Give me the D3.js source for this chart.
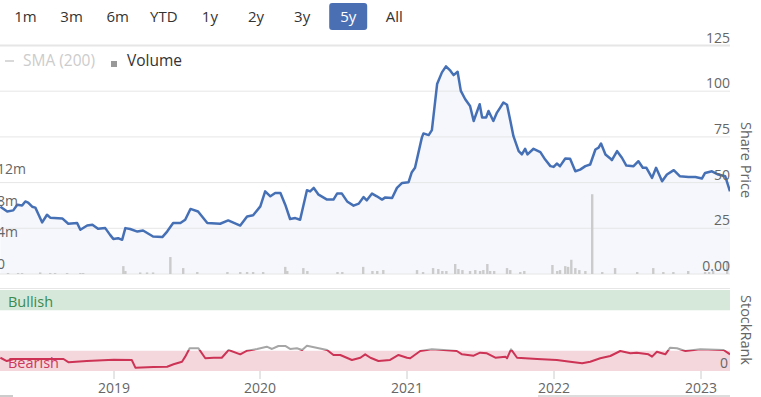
<!DOCTYPE html>
<meta charset="utf-8">
<script src="https://d3js.org/d3.v7.min.js"></script>
<style>
  body { margin: 0; background: #fff; }
  text { font-family: "Open Sans", sans-serif; }
</style>
<div id="chart"></div>
<script>

// range selector
var ranges = ["1m", "3m", "6m", "YTD", "1y", "2y", "3y", "5y", "All"];
var selectedRange = "5y";

// share price
var priceDates = ["2018-03-25","2018-04-11","2018-04-26","2018-05-06","2018-05-18","2018-05-26","2018-06-02","2018-06-12","2018-06-20","2018-06-27",
  "2018-07-07","2018-07-19","2018-07-27","2018-08-26","2018-09-10","2018-10-02","2018-10-10","2018-10-27","2018-11-09","2018-11-23",
  "2018-12-11","2018-12-23","2018-12-31","2019-01-12","2019-01-22","2019-01-30","2019-02-11","2019-03-01","2019-03-15","2019-04-09",
  "2019-05-02","2019-05-14","2019-05-29","2019-06-16","2019-06-28","2019-07-11","2019-07-30","2019-08-22","2019-09-23","2019-10-13",
  "2019-11-12","2019-11-29","2019-12-14","2020-01-01","2020-01-13","2020-01-26","2020-02-07","2020-02-20","2020-03-03","2020-03-15",
  "2020-03-28","2020-04-09","2020-04-26","2020-05-04","2020-05-13","2020-05-25","2020-06-15","2020-07-01","2020-07-10","2020-07-22",
  "2020-08-04","2020-08-20","2020-09-02","2020-09-14","2020-09-22","2020-10-05","2020-10-17","2020-10-30","2020-11-07","2020-11-24",
  "2020-12-06","2020-12-19","2021-01-04","2021-01-12","2021-01-20","2021-02-06","2021-02-10","2021-02-23","2021-03-03","2021-03-16",
  "2021-03-28","2021-04-07","2021-04-18","2021-04-26","2021-05-06","2021-05-14","2021-05-25","2021-06-06","2021-06-15","2021-06-30",
  "2021-07-06","2021-07-16","2021-07-22","2021-08-03","2021-08-12","2021-08-20","2021-08-28","2021-09-06","2021-09-14","2021-09-22",
  "2021-10-05","2021-10-13","2021-10-21","2021-10-27","2021-11-11","2021-11-28","2021-12-10","2021-12-23","2021-12-31","2022-01-08",
  "2022-01-16","2022-01-29","2022-02-10","2022-02-23","2022-03-07","2022-03-20","2022-04-01","2022-04-14","2022-04-22","2022-04-28",
  "2022-05-09","2022-05-21","2022-05-25","2022-06-07","2022-06-19","2022-06-30","2022-07-18","2022-07-30","2022-08-10","2022-08-19",
  "2022-09-02","2022-09-12","2022-09-27","2022-10-09","2022-10-26","2022-11-10","2022-12-02","2022-12-19","2023-01-04","2023-01-12",
  "2023-01-29","2023-02-14","2023-03-03","2023-03-15"];
var priceValues = [36.8,34.2,34.8,37.9,37.5,39.7,39.0,36.8,36.3,33.0,
  28.2,32.4,30.8,30.4,27.5,27.9,24.2,26.5,26.9,24.7,
  25.1,21.4,19.2,19.6,18.7,25.1,24.6,23.2,23.8,20.5,
  20.2,23.2,27.9,27.9,29.7,35.6,34.2,27.9,27.5,29.3,
  26.5,31.5,32.1,37.0,45.2,42.5,44.3,44.3,37.9,30.1,
  30.6,29.7,45.8,45.2,47.1,43.4,40.7,40.7,44.0,44.0,
  39.7,37.4,38.5,42.1,40.3,44.0,42.5,40.7,41.9,41.6,
  47.1,49.8,50.2,55.7,58.1,74.6,76.9,76.0,78.7,103.9,
  110.3,113.6,111.2,108.8,110.6,100.2,95.6,91.9,83.7,92.9,
  85.6,85.6,89.2,83.7,88.3,91.0,93.8,92.6,84.1,75.4,
  67.2,65.4,68.5,65.4,68.5,66.7,62.6,59.0,58.6,60.4,
  59.0,63.2,63.0,56.2,57.1,59.0,59.9,68.1,69.1,71.4,
  65.4,63.2,62.3,67.2,63.6,59.3,59.0,61.7,58.1,58.1,
  52.6,58.1,50.7,54.4,56.8,53.5,53.1,53.1,52.2,55.3,
  56.2,54.4,53.5,45.2];

// volume (millions)
var volumeDates = ["2018-04-13","2018-05-08","2018-05-18","2018-07-02","2018-07-27","2018-08-08","2018-09-07","2018-10-10","2018-10-17",
  "2019-01-25","2019-01-30","2019-03-08","2019-03-25","2019-04-09","2019-05-22","2019-06-23","2019-07-28","2019-10-11","2019-11-12",
  "2019-11-29","2019-12-14","2020-01-08","2020-03-03","2020-03-08","2020-04-17","2020-04-27","2020-07-11","2020-07-23","2020-09-13",
  "2020-10-06","2020-10-18","2020-11-02","2021-01-25","2021-02-09","2021-03-06","2021-03-19","2021-03-29","2021-04-08","2021-04-30",
  "2021-05-08","2021-05-18","2021-06-06","2021-06-19","2021-07-01","2021-07-09","2021-07-19","2021-07-26","2021-08-05","2021-09-06",
  "2021-09-14","2021-10-09","2021-10-19","2021-12-28","2022-01-09","2022-01-16","2022-01-29","2022-02-05","2022-02-13","2022-02-23",
  "2022-03-05","2022-03-20","2022-04-06","2022-05-01","2022-06-02","2022-07-27","2022-09-05","2022-09-30","2022-10-25","2022-12-01",
  "2023-01-12","2023-01-22","2023-02-01","2023-03-08"];
var volumeValues = [0.13,0.13,0.13,0.2,0.13,0.13,0.13,0.13,0.13,
  1.0,0.38,0.2,0.2,0.2,2.15,0.75,0.25,0.25,0.25,
  0.25,0.25,0.25,0.9,0.38,0.75,0.38,0.25,0.25,0.9,
  0.38,0.38,0.5,0.5,0.25,0.75,0.63,0.38,0.38,1.27,
  0.63,0.5,0.38,0.5,0.38,0.5,1.27,0.38,0.38,0.75,
  0.5,0.25,0.38,1.14,0.38,0.5,1.0,0.9,1.8,0.75,
  0.5,0.38,10.1,0.25,0.75,0.25,0.75,0.25,0.25,0.38,
  0.25,0.25,0.38,1.6];

// StockRank
var rankDates = ["2018-03-25","2018-04-10","2018-04-27","2018-08-29","2018-09-11","2018-10-26","2019-01-01","2019-02-15","2019-02-24","2019-04-10",
  "2019-05-14","2019-05-30","2019-06-20","2019-06-28","2019-07-09","2019-07-31","2019-08-17","2019-09-07","2019-09-27","2019-10-14",
  "2019-11-12","2019-11-29","2019-12-24","2020-01-17","2020-01-30","2020-02-15","2020-03-03","2020-03-15","2020-04-01","2020-04-14",
  "2020-04-26","2020-06-15","2020-07-01","2020-07-18","2020-08-16","2020-09-06","2020-09-18","2020-10-01","2020-10-21","2020-11-19",
  "2020-12-10","2020-12-31","2021-01-08","2021-02-02","2021-03-03","2021-04-01","2021-05-04","2021-05-17","2021-06-15","2021-07-01",
  "2021-07-18","2021-08-08","2021-09-02","2021-09-06","2021-09-16","2021-10-01","2021-11-20","2022-01-08","2022-02-10","2022-03-12",
  "2022-04-01","2022-04-26","2022-05-21","2022-06-15","2022-07-10","2022-07-26","2022-08-24","2022-09-02","2022-09-14","2022-10-05",
  "2022-10-17","2022-11-03","2022-11-24","2022-12-31","2023-02-27","2023-03-15"];
var rankValues = [16.4,12.3,14.8,14.8,10.7,12.3,14.0,13.6,4.1,4.9,
  5.3,8.3,11.5,17.7,28.0,28.0,15.7,16.4,16.4,25.9,
  20.6,25.1,27.2,30.0,27.2,30.9,30.9,27.2,28.0,25.9,
  31.2,25.9,19.8,19.8,13.6,16.4,20.6,16.4,12.3,13.6,
  19.8,16.4,15.7,24.7,26.8,25.9,24.7,20.6,18.9,22.6,
  21.9,16.4,17.7,15.7,26.8,16.4,14.8,13.6,11.5,9.5,
  11.5,15.7,18.5,24.7,21.9,22.6,20.6,17.7,23.8,20.6,
  28.8,28.0,24.7,26.8,25.9,20.6];

var priceTicks = [0, 25, 50, 75, 100, 125];
var volumeTicks = [0, 4, 8, 12];
var yearTicks = ["2019-01-01", "2020-01-01", "2021-01-01", "2022-01-01", "2023-01-01"];
var bands = [{name: "Bullish", from: 75, to: 100}, {name: "Bearish", from: 0, to: 25}];

var W = 761, H = 397, plotRight = 730;
var parse = d3.timeParse("%Y-%m-%d");

var svg = d3.select("#chart").append("svg")
  .attr("width", W)
  .attr("height", H);

var x = d3.scaleTime()
  .domain([parse("2018-03-24"), parse("2023-03-15")])
  .range([0, plotRight]);
var yPrice = d3.scaleLinear().domain([0, 125]).range([274, 45.5]);
var yVol = d3.scaleLinear().domain([0, 16]).range([274, 147.6]);
var yRank = d3.scaleLinear().domain([0, 100]).range([371, 290]);

var price = priceDates.map(function(d, i) { return {date: parse(d), value: priceValues[i]}; });
var volume = volumeDates.map(function(d, i) { return {date: parse(d), value: volumeValues[i]}; });
var rank = rankDates.map(function(d, i) { return {date: parse(d), value: rankValues[i]}; });

// range selector buttons
var btn = svg.append("g").selectAll("g")
  .data(ranges)
  .enter().append("g")
  .attr("transform", function(d, i) { return "translate(" + (25.5 + i * 46.1) + ",0)"; });
btn.filter(function(d) { return d === selectedRange; })
  .append("rect")
  .attr("x", -19).attr("y", 3).attr("width", 38).attr("height", 27).attr("rx", 3)
  .attr("fill", "#4a6fb3");
btn.append("text")
  .attr("y", 22)
  .attr("text-anchor", "middle")
  .style("font-size", "15px")
  .attr("fill", function(d) { return d === selectedRange ? "#fff" : "#333"; })
  .text(function(d) { return d; });

// legend
var legend = svg.append("g");
legend.append("line")
  .attr("x1", 5).attr("x2", 14).attr("y1", 61).attr("y2", 61)
  .attr("stroke", "#ccc").attr("stroke-width", 1.5);
legend.append("text").attr("x", 23).attr("y", 66)
  .style("font-size", "15.5px").attr("fill", "#ccc").text("SMA (200)");
legend.append("rect").attr("x", 111).attr("y", 61).attr("width", 6).attr("height", 6)
  .attr("fill", "#999");
legend.append("text").attr("x", 127).attr("y", 66)
  .style("font-size", "15.5px").attr("fill", "#333").text("Volume");

// clip
svg.append("clipPath").attr("id", "plotClip")
  .append("rect").attr("x", 0).attr("y", 0).attr("width", plotRight).attr("height", H);

// area under the price line
svg.append("path")
  .datum(price)
  .attr("clip-path", "url(#plotClip)")
  .attr("fill", "#f5f7fc")
  .attr("d", d3.area()
    .x(function(d) { return x(d.date); })
    .y0(yPrice(0))
    .y1(function(d) { return yPrice(d.value); }));

// gridlines
svg.append("g").selectAll("line")
  .data(priceTicks)
  .enter().append("line")
  .attr("x1", 0).attr("x2", plotRight)
  .attr("y1", function(d) { return yPrice(d); })
  .attr("y2", function(d) { return yPrice(d); })
  .attr("stroke", "#e6e6e6")
  .attr("stroke-width", function(d) { return d === 125 ? 2 : 1; });

var upper = svg.append("g").attr("clip-path", "url(#plotClip)");

// volume bars
upper.append("g").selectAll("rect")
  .data(volume)
  .enter().append("rect")
  .attr("x", function(d) { return x(d.date) - 1.2; })
  .attr("width", 2.4)
  .attr("y", function(d) { return yVol(d.value); })
  .attr("height", function(d) { return yVol(0) - yVol(d.value); })
  .attr("fill", "#cbcbcb");

// price line
upper.append("path")
  .datum(price)
  .attr("fill", "none")
  .attr("stroke", "#4670b5")
  .attr("stroke-width", 2.5)
  .attr("stroke-linejoin", "round")
  .attr("d", d3.line()
    .x(function(d) { return x(d.date); })
    .y(function(d) { return yPrice(d.value); }));

// price axis labels
svg.append("g").selectAll("text")
  .data(priceTicks)
  .enter().append("text")
  .attr("x", plotRight)
  .attr("y", function(d) { return yPrice(d) - 3; })
  .attr("text-anchor", "end")
  .style("font-size", "14px")
  .attr("fill", "#666")
  .text(function(d) { return d === 0 ? "0.00" : d; });

// volume axis labels (cut at the left edge, as in the source)
svg.append("g").selectAll("text")
  .data(volumeTicks)
  .enter().append("text")
  .attr("x", -3)
  .attr("y", function(d) { return yVol(d) - 5; })
  .style("font-size", "14px")
  .attr("fill", "#666")
  .text(function(d) { return d === 0 ? "0" : d + "m"; });

svg.append("text")
  .attr("transform", "translate(741,160) rotate(90)")
  .attr("text-anchor", "middle")
  .style("font-size", "14.5px")
  .attr("fill", "#666")
  .text("Share Price");

// StockRank panel
svg.append("line")
  .attr("x1", 0).attr("x2", plotRight).attr("y1", 288.5).attr("y2", 288.5)
  .attr("stroke", "#e6e6e6");

svg.append("g").selectAll("rect")
  .data(bands)
  .enter().append("rect")
  .attr("x", 0).attr("width", plotRight)
  .attr("y", function(d) { return yRank(d.to); })
  .attr("height", function(d) { return yRank(d.from) - yRank(d.to); })
  .attr("fill", function(d) { return d.name === "Bullish" ? "#d5e8da" : "#f4d6dd"; });

svg.append("g").selectAll("text")
  .data(bands)
  .enter().append("text")
  .attr("x", 8)
  .attr("y", function(d) { return yRank(d.from) - 3; })
  .style("font-size", "14.5px")
  .attr("fill", function(d) { return d.name === "Bullish" ? "#3b8a50" : "#cc3a5e"; })
  .text(function(d) { return d.name; });

var threshold = 26;
svg.append("clipPath").attr("id", "rankLow")
  .append("rect").attr("x", 0).attr("width", plotRight)
  .attr("y", yRank(threshold)).attr("height", H);
svg.append("clipPath").attr("id", "rankHigh")
  .append("rect").attr("x", 0).attr("width", plotRight)
  .attr("y", 0).attr("height", yRank(threshold));

var rankLine = d3.line()
  .x(function(d) { return x(d.date); })
  .y(function(d) { return yRank(d.value); });

[["rankLow", "#cc3354"], ["rankHigh", "#a6a6a6"]].forEach(function(z) {
  svg.append("path")
    .datum(rank)
    .attr("clip-path", "url(#" + z[0] + ")")
    .attr("fill", "none")
    .attr("stroke", z[1])
    .attr("stroke-width", 2)
    .attr("stroke-linejoin", "round")
    .attr("d", rankLine);
});

svg.append("text")
  .attr("x", plotRight - 2)
  .attr("y", yRank(0) - 3)
  .attr("text-anchor", "end")
  .style("font-size", "14px")
  .attr("fill", "#666")
  .text("0");

svg.append("text")
  .attr("transform", "translate(741,330) rotate(90)")
  .attr("text-anchor", "middle")
  .style("font-size", "14.5px")
  .attr("fill", "#666")
  .text("StockRank");

// x axis
var xAxis = svg.append("g").selectAll("g")
  .data(yearTicks)
  .enter().append("g")
  .attr("transform", function(d) { return "translate(" + Math.round(x(parse(d))) + ",0)"; });
xAxis.append("line")
  .attr("y1", yRank(0)).attr("y2", yRank(0) + 8)
  .attr("stroke", "#ccc");
xAxis.append("text")
  .attr("y", 393)
  .attr("text-anchor", "middle")
  .style("font-size", "14px")
  .attr("fill", "#666")
  .text(function(d) { return d.slice(0, 4); });

// navigator scrollbar remnant
svg.append("rect").attr("x", 538).attr("y", 395).attr("width", plotRight - 538).attr("height", 2).attr("fill", "#ddd");
svg.append("rect").attr("x", 0).attr("y", 395).attr("width", 13).attr("height", 2).attr("fill", "#ccc");

</script>
